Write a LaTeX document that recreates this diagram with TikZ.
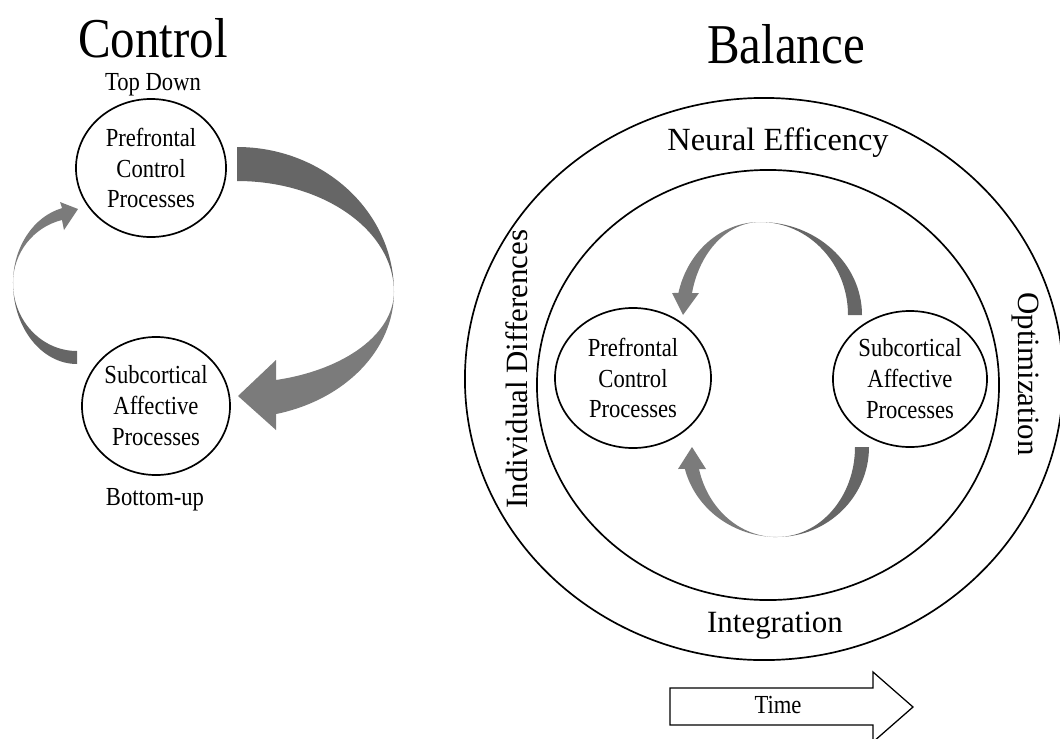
\documentclass[tikz,border=0pt]{standalone}
\usepackage{fontspec}
\setmainfont{Liberation Serif}
\newfontfamily\narrowserif{Liberation Serif}[FakeStretch=0.87]
\usetikzlibrary{shapes.geometric}

\definecolor{ribbondark}{HTML}{666666}
\definecolor{ribbonlight}{HTML}{7B7B7B}

\tikzset{
  proc/.style={ellipse, draw, line width=1.2pt, inner sep=0pt, align=center,
    font=\narrowserif\fontsize{18.5}{22}\selectfont},
  ring/.style={ellipse, draw, line width=1.2pt, inner sep=0pt},
  title/.style={anchor=base, font=\narrowserif\fontsize{40}{44}\selectfont},
  small/.style={anchor=base, font=\narrowserif\fontsize{18.5}{22}\selectfont},
  ringlabel/.style={font=\fontsize{22}{26}\selectfont},
}

\begin{document}
\begin{tikzpicture}[x=0.025cm, y=-0.025cm]
  \useasboundingbox (0,0) rectangle (1060,738);

  % control: top down / bottom up
  \node[title] (control) at (153,57) {Control};
  \node[small] (topdown) at (153,90) {Top Down};
  \node[proc, minimum width=3.75cm, minimum height=3.45cm] (pfc) at (151,168) {Prefrontal\\Control\\Processes};
  \node[proc, minimum width=3.7cm, minimum height=3.45cm] (sub) at (156,406) {Subcortical\\Affective\\Processes};
  \node[small] (bottomup) at (155,505) {Bottom-up};

  % big ribbon, pfc -> sub
  \fill[ribbondark] (237,147) arc[start angle=270, end angle=360, x radius=157, y radius=145]
    arc[start angle=0, end angle=-90, x radius=157, y radius=111] -- cycle;
  \fill[ribbonlight] (394,292) arc[start angle=0, end angle=75.6, x radius=157, y radius=126]
    -- (276,430) -- (238,396) -- (276,360) -- (276,380)
    arc[start angle=75.6, end angle=0, x radius=157, y radius=91] -- cycle;

  % small ribbon, sub -> pfc
  \fill[ribbondark] (77,364) arc[start angle=90, end angle=180, x radius=64, y radius=81]
    arc[start angle=180, end angle=90, x radius=64, y radius=68] -- cycle;
  \fill[ribbonlight] (13,283) arc[start angle=180, end angle=256.5, x radius=64, y radius=77]
    -- (60,202) -- (78,209) -- (64,230) -- (62,220)
    arc[start angle=256.5, end angle=180, x radius=64, y radius=65] -- cycle;

  % balance: rings
  \node[title] (balance) at (786,63) {Balance};
  \node[ring, minimum width=14.95cm, minimum height=14.05cm] (outer) at (764,379) {};
  \node[ring, minimum width=11.55cm, minimum height=10.75cm] (inner) at (768,385) {};
  \node[ringlabel, anchor=base, font=\fontsize{23}{27}\selectfont] (neural) at (778,150) {Neural Efficency};
  \node[ringlabel, anchor=base] (integ) at (775,632) {Integration};
  \node[ringlabel, rotate=90] (indiv) at (517,369) {Individual Differences};
  \node[ringlabel, rotate=-90] (optim) at (1025,374) {Optimization};

  \node[proc, minimum width=3.9cm, minimum height=3.5cm] (pfcb) at (633,378) {Prefrontal\\Control\\Processes};
  \node[proc, minimum width=3.85cm, minimum height=3.4cm] (subb) at (910,379) {Subcortical\\Affective\\Processes};

  % upper ribbon, subb -> pfcb
  \fill[ribbondark] (862,315) arc[start angle=0, end angle=-90, x radius=102, y radius=93]
    arc[start angle=-90, end angle=0, x radius=88, y radius=93] -- cycle;
  \fill[ribbonlight] (760,222) arc[start angle=270, end angle=193.7, x radius=84, y radius=93]
    -- (672,293) -- (683,315) -- (699,293) -- (692,293)
    arc[start angle=193.7, end angle=270, x radius=70, y radius=93] -- cycle;

  % lower ribbon, subb -> pfcb
  \fill[ribbondark] (869,447) arc[start angle=0, end angle=90, x radius=92, y radius=90]
    arc[start angle=90, end angle=0, x radius=78, y radius=90] -- cycle;
  \fill[ribbonlight] (777,537) arc[start angle=90, end angle=165.9, x radius=95, y radius=90]
    -- (678,469) -- (692,447) -- (706,469) -- (699,469)
    arc[start angle=165.9, end angle=90, x radius=80, y radius=90] -- cycle;

  % time arrow
  \draw[line width=0.9pt] (670,688) -- (873,688) -- (873,672) -- (913,707) -- (873,742) -- (873,725) -- (670,725) -- cycle;
  \node[small] (time) at (778,713) {Time};
\end{tikzpicture}
\end{document}
